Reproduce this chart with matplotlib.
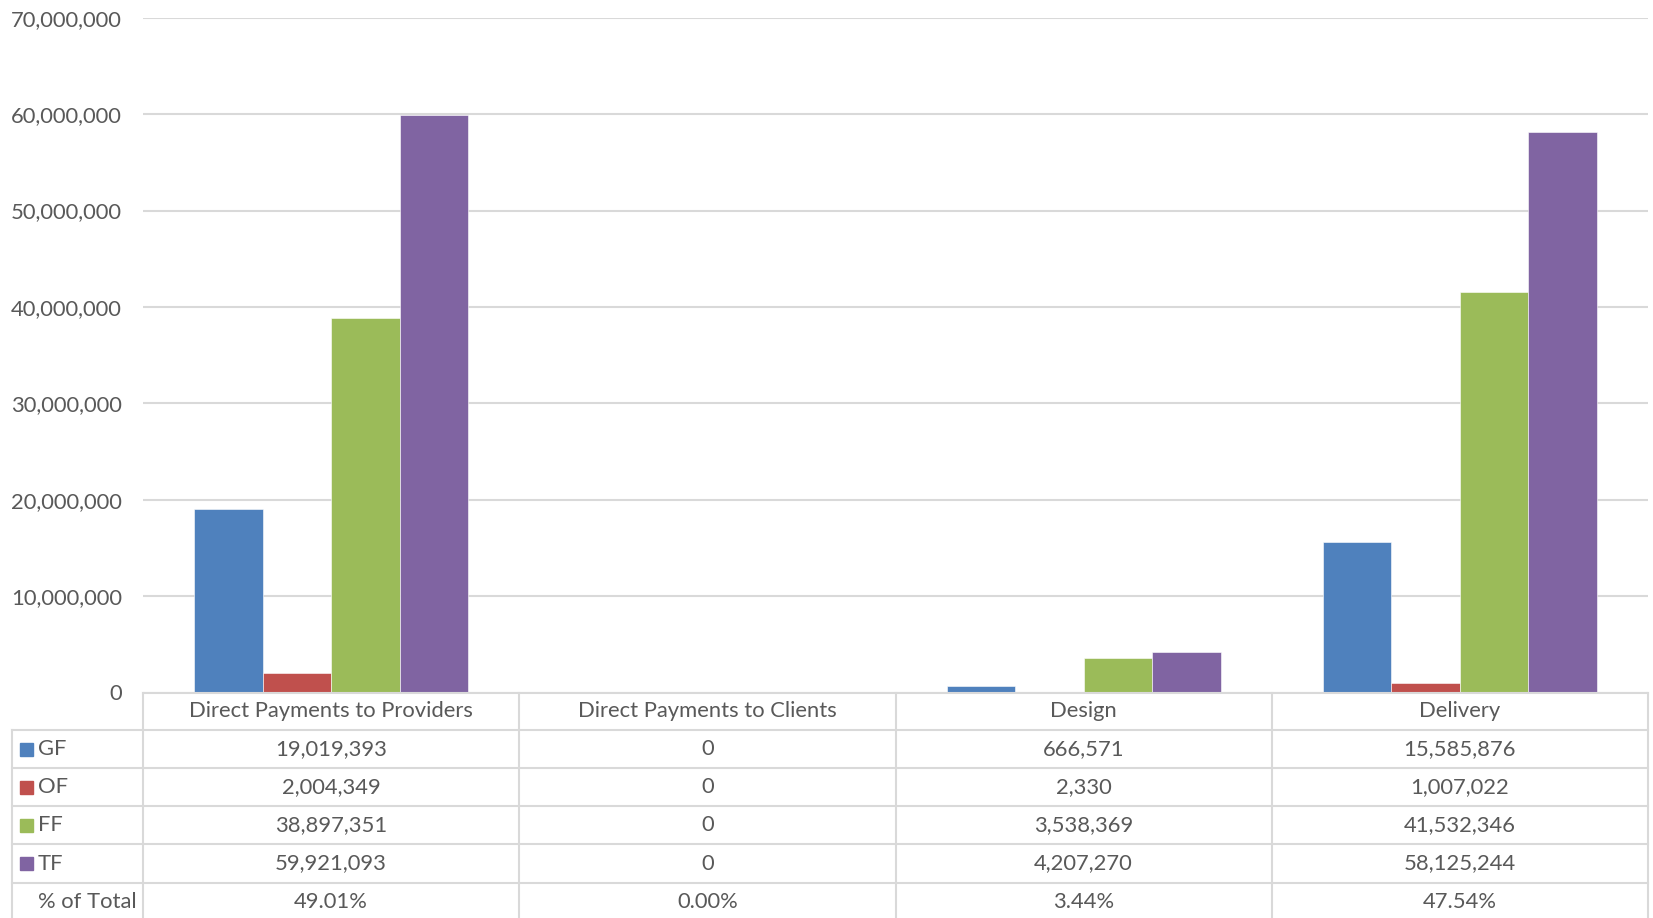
import matplotlib
matplotlib.use("Agg")
import matplotlib.pyplot as plt
from matplotlib.patches import Rectangle
from matplotlib.lines import Line2D
import numpy as np

categories = ["Direct Payments to Providers", "Direct Payments to Clients", "Design", "Delivery"]
series_names = ["GF", "OF", "FF", "TF"]
GF = [19019393, 0, 666571, 15585876]
OF = [2004349, 0, 2330, 1007022]
FF = [38897351, 0, 3538369, 41532346]
TF = [59921093, 0, 4207270, 58125244]
pct_total = ["49.01%", "0.00%", "3.44%", "47.54%"]
colors = ["#4F81BD", "#C0504D", "#9BBB59", "#8064A2"]
yticks = [0, 10000000, 20000000, 30000000, 40000000, 50000000, 60000000, 70000000]

W, H = 1653, 918
fig = plt.figure(figsize=(W / 100, H / 100), dpi=100)
plt.rcParams['font.family'] = ['Lato', 'DejaVu Sans']
txt_color = "#595959"
grid_color = "#D9D9D9"
fs = 15.8

# pixel layout
x_left, x_right = 143, 1648
y_top, y_zero = 17.7, 692.5

def fx(px):
    return px / W

def fy(py):
    return 1 - py / H

ax = fig.add_axes([fx(x_left), fy(y_zero), fx(x_right) - fx(x_left), fy(y_top) - fy(y_zero)])
series = [GF, OF, FF, TF]
bw = 0.182
x = np.arange(len(categories))
for i, (vals, c) in enumerate(zip(series, colors)):
    ax.bar(x + (i - 1.5) * bw, vals, width=bw, color=c, edgecolor="white", linewidth=0.4, zorder=3)

ax.set_xlim(-0.5, len(categories) - 0.5)
ax.set_ylim(0, 70000000)
ax.set_yticks(yticks)
ax.set_yticklabels([f"{v:,}" for v in yticks], color=txt_color, fontsize=fs)
ax.tick_params(axis='y', length=0, pad=15)
ax.set_xticks([])
ax.grid(axis='y', color=grid_color, linewidth=1.5, zorder=0)
for s in ax.spines.values():
    s.set_visible(False)

# table
row_bounds = [692.5, 730, 768, 806, 844, 883, 921]
col_w = (x_right - x_left) / len(categories)
col_bounds = [x_left + k * col_w for k in range(len(categories) + 1)]
legend_left = 12

def hline(py, x0, x1):
    fig.add_artist(Line2D([fx(x0), fx(x1)], [fy(py), fy(py)], color=grid_color, linewidth=1.5, transform=fig.transFigure))

def vline(px, y0, y1):
    fig.add_artist(Line2D([fx(px), fx(px)], [fy(y0), fy(y1)], color=grid_color, linewidth=1.5, transform=fig.transFigure))

hline(row_bounds[0], x_left, x_right)
for rb in row_bounds[1:-1]:
    hline(rb, legend_left, x_right)
for cb in col_bounds:
    vline(cb, row_bounds[0], row_bounds[-1])
vline(legend_left, row_bounds[1], row_bounds[-1])

def rc(r):
    return (row_bounds[r] + row_bounds[r + 1]) / 2

for j, cat in enumerate(categories):
    cx = (col_bounds[j] + col_bounds[j + 1]) / 2
    fig.text(fx(cx), fy(rc(0)), cat, ha='center', va='center', fontsize=fs, color=txt_color)
    for i, vals in enumerate(series):
        fig.text(fx(cx), fy(rc(i + 1)), f"{vals[j]:,}", ha='center', va='center', fontsize=fs, color=txt_color)
    fig.text(fx(cx), fy(rc(5)), pct_total[j], ha='center', va='center', fontsize=fs, color=txt_color)

sq = 13
for i, (name, c) in enumerate(zip(series_names, colors)):
    cy = rc(i + 1)
    fig.add_artist(Rectangle((fx(20), fy(cy + sq / 2)), sq / W, sq / H, color=c, transform=fig.transFigure))
    fig.text(fx(38), fy(cy), name, ha='left', va='center', fontsize=fs, color=txt_color)
fig.text(fx(38), fy(rc(5)), "% of Total", ha='left', va='center', fontsize=fs, color=txt_color)

fig.savefig("out.png", dpi=100)
